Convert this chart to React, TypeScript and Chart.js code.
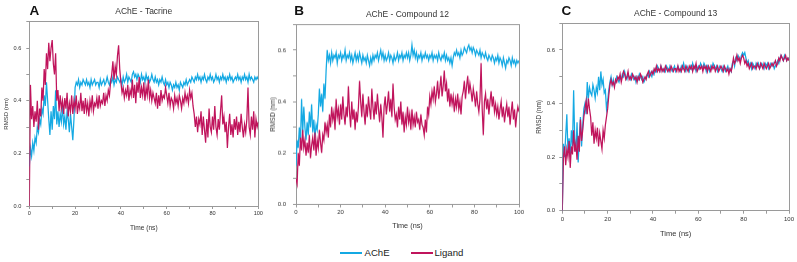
import React, { useEffect, useRef } from "react";
import { Chart, registerables } from "chart.js";

Chart.register(...registerables);

// Time grid: one sample every 0.5 ns, 0..100 ns
const TIME_NS: number[] = Array.from({ length: 201 }, (_, i) => i * 0.5);

const X_TICKS = [0, 20, 40, 60, 80, 100];
const Y_TICKS = [0.0, 0.2, 0.4, 0.6];

const TITLES = ["AChE - Tacrine", "AChE - Compound 12", "AChE - Compound 13"];
const LETTERS = ["A", "B", "C"];
const SERIES_NAMES = ["AChE", "Ligand"];

// Panel A — AChE-Tacrine
const ache_A = [
  0.15,0.22,0.19,0.24,0.21,0.26,0.24,0.30,0.28,0.33,
  0.31,0.37,0.35,0.42,0.38,0.47,0.40,0.33,0.27,0.36,
  0.29,0.38,0.33,0.44,0.31,0.36,0.30,0.35,0.32,0.38,
  0.31,0.34,0.29,0.36,0.33,0.28,0.35,0.30,0.25,0.33,
  0.45,0.47,0.46,0.48,0.45,0.47,0.46,0.48,0.47,0.46,
  0.48,0.46,0.47,0.45,0.48,0.46,0.47,0.48,0.46,0.47,
  0.47,0.45,0.48,0.46,0.47,0.48,0.46,0.47,0.49,0.47,
  0.46,0.48,0.47,0.49,0.46,0.48,0.47,0.49,0.48,0.47,
  0.48,0.46,0.49,0.47,0.48,0.50,0.47,0.49,0.48,0.47,
  0.50,0.51,0.49,0.50,0.48,0.50,0.49,0.47,0.50,0.48,
  0.49,0.47,0.50,0.48,0.49,0.47,0.48,0.50,0.48,0.47,
  0.49,0.47,0.48,0.46,0.48,0.47,0.49,0.47,0.46,0.48,
  0.46,0.47,0.45,0.47,0.46,0.44,0.46,0.45,0.47,0.45,
  0.46,0.44,0.47,0.46,0.45,0.47,0.46,0.48,0.46,0.47,
  0.48,0.47,0.49,0.48,0.47,0.49,0.48,0.50,0.48,0.49,
  0.47,0.49,0.48,0.50,0.48,0.47,0.49,0.48,0.50,0.48,
  0.49,0.47,0.48,0.50,0.48,0.49,0.47,0.49,0.48,0.50,
  0.48,0.49,0.47,0.49,0.48,0.50,0.48,0.49,0.47,0.48,
  0.49,0.48,0.50,0.48,0.49,0.47,0.49,0.48,0.50,0.48,
  0.49,0.47,0.50,0.48,0.49,0.48,0.47,0.49,0.48,0.49,
  0.48,
];
const ligand_A = [
  0.00,0.46,0.33,0.38,0.30,0.36,0.32,0.40,0.29,0.37,
  0.34,0.45,0.40,0.52,0.46,0.58,0.52,0.62,0.55,0.60,
  0.63,0.54,0.50,0.58,0.40,0.44,0.36,0.42,0.37,0.40,
  0.35,0.41,0.37,0.43,0.34,0.39,0.36,0.42,0.35,0.40,
  0.37,0.42,0.35,0.39,0.37,0.43,0.36,0.40,0.35,0.41,
  0.36,0.39,0.34,0.40,0.37,0.42,0.36,0.39,0.38,0.41,
  0.37,0.42,0.38,0.40,0.39,0.43,0.38,0.42,0.40,0.44,
  0.42,0.47,0.50,0.55,0.48,0.53,0.50,0.57,0.61,0.52,
  0.47,0.43,0.45,0.41,0.44,0.42,0.46,0.40,0.44,0.42,
  0.48,0.41,0.46,0.39,0.47,0.43,0.49,0.41,0.45,0.42,
  0.47,0.40,0.45,0.42,0.48,0.41,0.44,0.40,0.43,0.41,
  0.39,0.43,0.37,0.42,0.38,0.44,0.40,0.42,0.41,0.45,
  0.42,0.39,0.43,0.38,0.41,0.40,0.37,0.42,0.39,0.41,
  0.38,0.42,0.40,0.37,0.41,0.39,0.43,0.40,0.42,0.39,
  0.44,0.41,0.43,0.38,0.35,0.30,0.34,0.28,0.33,0.31,
  0.36,0.27,0.34,0.29,0.24,0.33,0.26,0.37,0.30,0.28,
  0.34,0.29,0.38,0.30,0.27,0.33,0.29,0.36,0.42,0.31,
  0.34,0.28,0.32,0.22,0.30,0.35,0.27,0.31,0.26,0.33,
  0.29,0.34,0.27,0.32,0.28,0.35,0.30,0.26,0.31,0.28,
  0.33,0.45,0.30,0.27,0.34,0.29,0.36,0.26,0.33,0.30,
  0.32,
];

// Panel B — AChE-Compound 12
const ache_B = [
  0.15,0.25,0.22,0.30,0.24,0.41,0.28,0.38,0.30,0.25,
  0.32,0.27,0.36,0.30,0.39,0.28,0.33,0.26,0.31,0.29,
  0.35,0.45,0.38,0.43,0.36,0.47,0.41,0.52,0.60,0.56,
  0.58,0.55,0.59,0.56,0.58,0.57,0.59,0.55,0.58,0.57,
  0.59,0.56,0.58,0.57,0.60,0.56,0.58,0.57,0.59,0.56,
  0.58,0.55,0.57,0.59,0.56,0.58,0.56,0.59,0.57,0.55,
  0.58,0.56,0.57,0.55,0.58,0.56,0.54,0.57,0.55,0.58,
  0.56,0.58,0.57,0.59,0.56,0.58,0.60,0.57,0.59,0.56,
  0.58,0.56,0.57,0.59,0.56,0.58,0.57,0.55,0.58,0.56,
  0.57,0.59,0.56,0.58,0.57,0.59,0.56,0.58,0.57,0.59,
  0.57,0.59,0.56,0.58,0.62,0.58,0.60,0.57,0.59,0.56,
  0.58,0.57,0.59,0.56,0.58,0.57,0.59,0.57,0.58,0.56,
  0.58,0.57,0.59,0.56,0.58,0.57,0.58,0.56,0.59,0.57,
  0.56,0.58,0.57,0.59,0.56,0.58,0.56,0.57,0.55,0.57,
  0.54,0.57,0.59,0.58,0.60,0.58,0.59,0.57,0.60,0.58,
  0.59,0.61,0.60,0.59,0.61,0.62,0.60,0.61,0.59,0.61,
  0.60,0.58,0.60,0.59,0.58,0.60,0.57,0.59,0.58,0.57,
  0.59,0.57,0.56,0.58,0.57,0.56,0.58,0.57,0.55,0.57,
  0.56,0.58,0.55,0.57,0.56,0.54,0.57,0.55,0.53,0.56,
  0.55,0.57,0.56,0.54,0.57,0.55,0.56,0.54,0.56,0.55,
  0.56,
];
const ligand_B = [
  0.10,0.08,0.20,0.15,0.26,0.21,0.29,0.22,0.25,0.19,
  0.24,0.20,0.27,0.18,0.23,0.26,0.21,0.28,0.19,0.25,
  0.22,0.29,0.24,0.20,0.27,0.25,0.32,0.28,0.31,0.26,
  0.35,0.30,0.38,0.33,0.36,0.29,0.41,0.34,0.37,0.31,
  0.39,0.33,0.42,0.35,0.31,0.38,0.34,0.46,0.36,0.30,
  0.40,0.33,0.37,0.29,0.36,0.32,0.38,0.48,0.40,0.34,
  0.43,0.36,0.31,0.39,0.34,0.42,0.37,0.33,0.45,0.38,
  0.33,0.40,0.35,0.43,0.37,0.32,0.39,0.34,0.26,0.38,
  0.42,0.35,0.39,0.44,0.36,0.41,0.34,0.47,0.38,0.33,
  0.35,0.30,0.38,0.33,0.40,0.31,0.36,0.28,0.34,0.31,
  0.38,0.32,0.35,0.29,0.37,0.31,0.34,0.30,0.36,0.32,
  0.33,0.29,0.35,0.31,0.30,0.27,0.33,0.28,0.38,0.35,
  0.42,0.39,0.44,0.41,0.46,0.40,0.43,0.48,0.41,0.45,
  0.50,0.42,0.46,0.52,0.44,0.47,0.40,0.45,0.38,0.43,
  0.39,0.42,0.36,0.41,0.38,0.43,0.37,0.40,0.35,0.42,
  0.44,0.48,0.41,0.46,0.50,0.43,0.47,0.44,0.40,0.45,
  0.42,0.38,0.44,0.39,0.36,0.41,0.55,0.37,0.27,0.40,
  0.43,0.37,0.41,0.35,0.40,0.44,0.38,0.42,0.36,0.39,
  0.35,0.38,0.33,0.37,0.40,0.34,0.38,0.32,0.36,0.39,
  0.34,0.38,0.31,0.36,0.40,0.33,0.37,0.30,0.35,0.38,
  0.36,
];

// Panel C — AChE-Compound 13
const ache_C = [
  0.00,0.25,0.20,0.28,0.36,0.22,0.27,0.20,0.30,0.24,
  0.45,0.26,0.22,0.33,0.18,0.27,0.35,0.24,0.32,0.38,
  0.40,0.36,0.48,0.42,0.46,0.44,0.43,0.47,0.45,0.42,
  0.46,0.44,0.50,0.45,0.52,0.47,0.49,0.44,0.45,0.38,
  0.41,0.45,0.48,0.50,0.47,0.49,0.47,0.48,0.50,0.49,
  0.48,0.50,0.49,0.51,0.50,0.52,0.50,0.49,0.51,0.50,
  0.49,0.51,0.50,0.49,0.50,0.48,0.50,0.49,0.51,0.50,
  0.49,0.50,0.48,0.49,0.50,0.51,0.50,0.52,0.51,0.50,
  0.52,0.51,0.53,0.52,0.54,0.53,0.52,0.54,0.53,0.52,
  0.53,0.52,0.54,0.53,0.52,0.54,0.53,0.52,0.53,0.54,
  0.52,0.53,0.54,0.53,0.52,0.54,0.53,0.55,0.53,0.52,
  0.54,0.53,0.52,0.54,0.53,0.55,0.53,0.54,0.52,0.53,
  0.54,0.53,0.55,0.54,0.53,0.55,0.54,0.52,0.54,0.53,
  0.52,0.54,0.53,0.55,0.54,0.53,0.54,0.52,0.53,0.54,
  0.53,0.52,0.54,0.53,0.52,0.53,0.54,0.52,0.53,0.52,
  0.55,0.56,0.54,0.57,0.56,0.58,0.57,0.56,0.58,0.59,
  0.58,0.59,0.57,0.55,0.56,0.54,0.55,0.53,0.55,0.54,
  0.53,0.55,0.54,0.55,0.53,0.54,0.55,0.54,0.53,0.55,
  0.54,0.55,0.53,0.54,0.55,0.54,0.55,0.53,0.54,0.55,
  0.56,0.55,0.57,0.58,0.57,0.56,0.58,0.57,0.56,0.57,
  0.57,
];
const ligand_C = [
  0.00,0.20,0.24,0.17,0.23,0.20,0.26,0.16,0.24,0.21,
  0.30,0.22,0.25,0.19,0.28,0.22,0.34,0.26,0.30,0.35,
  0.38,0.41,0.36,0.42,0.38,0.35,0.28,0.33,0.25,0.30,
  0.27,0.31,0.24,0.29,0.26,0.23,0.30,0.27,0.32,0.35,
  0.38,0.43,0.47,0.49,0.47,0.48,0.46,0.49,0.48,0.50,
  0.49,0.51,0.48,0.50,0.52,0.51,0.49,0.50,0.52,0.49,
  0.50,0.49,0.51,0.50,0.49,0.50,0.48,0.50,0.49,0.51,
  0.50,0.48,0.49,0.50,0.49,0.51,0.52,0.50,0.51,0.52,
  0.51,0.53,0.52,0.54,0.52,0.53,0.52,0.54,0.52,0.53,
  0.52,0.54,0.53,0.52,0.53,0.52,0.54,0.53,0.52,0.53,
  0.53,0.52,0.54,0.52,0.53,0.52,0.54,0.53,0.52,0.54,
  0.53,0.52,0.54,0.53,0.54,0.52,0.54,0.53,0.55,0.52,
  0.53,0.54,0.53,0.54,0.52,0.54,0.53,0.54,0.52,0.54,
  0.53,0.52,0.54,0.53,0.54,0.52,0.53,0.54,0.52,0.53,
  0.54,0.53,0.52,0.54,0.53,0.52,0.53,0.51,0.53,0.52,
  0.54,0.57,0.55,0.56,0.58,0.56,0.57,0.55,0.57,0.58,
  0.57,0.55,0.56,0.54,0.55,0.53,0.54,0.55,0.53,0.54,
  0.54,0.53,0.55,0.54,0.53,0.55,0.54,0.53,0.55,0.54,
  0.53,0.54,0.55,0.53,0.54,0.55,0.54,0.55,0.56,0.54,
  0.55,0.57,0.56,0.58,0.57,0.56,0.57,0.58,0.56,0.57,
  0.56,
];

const ACHE_COLOR = "#14a9e3";
const LIGAND_COLOR = "#c0145c";
const FONT = "'Liberation Sans', Arial, Helvetica, sans-serif";
const FRAME = "#9a9a9a";
const TEXT = "#333333";

type Geo = {
  left: number; width: number; height: number;
  plotLeft: number; plotRight: number; plotTop: number; plotBottom: number;
  tickFont: number; xTitleFont: number; yTitleFont: number;
  yTickPad: number; xTickPad: number; yTitlePad: number;
  titleY: number; letterX: number;
};

const GEOS: Geo[] = [
  { left: 0, width: 265, height: 232, plotLeft: 29.3, plotRight: 258.3, plotTop: 21.7, plotBottom: 206,
    tickFont: 5.6, xTitleFont: 6.6, yTitleFont: 6, yTickPad: 5, xTickPad: 1, yTitlePad: 2.6, titleY: 11, letterX: 29.5 },
  { left: 265, width: 265, height: 229.5, plotLeft: 296, plotRight: 519, plotTop: 24.3, plotBottom: 204,
    tickFont: 6, xTitleFont: 7.3, yTitleFont: 6.5, yTickPad: 7, xTickPad: 1, yTitlePad: 4.8, titleY: 14.3, letterX: 294.3 },
  { left: 530, width: 267, height: 238, plotLeft: 562.3, plotRight: 789, plotTop: 23.2, plotBottom: 210.7,
    tickFont: 6, xTitleFont: 7.5, yTitleFont: 6.4, yTickPad: 4.3, xTickPad: 2.5, yTitlePad: 5.6, titleY: 13.3, letterX: 561.5 },
];

const PANEL_DATA: number[][][] = [
  [ache_A, ligand_A],
  [ache_B, ligand_B],
  [ache_C, ligand_C],
];

function Panel({ idx }: { idx: number }) {
  const ref = useRef<HTMLCanvasElement | null>(null);
  const g = GEOS[idx];
  useEffect(() => {
    if (!ref.current) return;
    const [ache, lig] = PANEL_DATA[idx];
    const toPts = (arr: number[]) => arr.map((v, i) => ({ x: TIME_NS[i], y: v }));
    const chart = new Chart(ref.current, {
      type: "line",
      data: {
        datasets: [
          { label: SERIES_NAMES[1], data: toPts(lig), borderColor: LIGAND_COLOR, borderWidth: 1.25, pointRadius: 0, tension: 0, order: 0 },
          { label: SERIES_NAMES[0], data: toPts(ache), borderColor: ACHE_COLOR, borderWidth: 1.25, pointRadius: 0, tension: 0, order: 1 },
        ],
      },
      options: {
        animation: false,
        responsive: false,
        maintainAspectRatio: false,
        layout: {
          padding: { top: g.plotTop, right: g.left + g.width - g.plotRight, left: 0, bottom: 0 },
        },
        plugins: { legend: { display: false }, tooltip: { enabled: false }, title: { display: false } },
        scales: {
          x: {
            type: "linear", position: "bottom", min: 0, max: 100,
            afterFit: (s: any) => { s.height = g.height - g.plotBottom; },
            grid: { display: true, drawOnChartArea: false, drawTicks: true, tickLength: 3, color: FRAME },
            border: { display: true, color: FRAME, width: 1 },
            ticks: {
              stepSize: 10, autoSkip: false, maxRotation: 0, padding: g.xTickPad, color: TEXT,
              font: { family: FONT, size: g.tickFont },
              callback: (v: any) => (X_TICKS.includes(Math.round(Number(v))) && Math.abs(Number(v) % 20) < 1e-6 ? String(Math.round(Number(v))) : ""),
            },
            title: { display: true, text: "Time (ns)", color: TEXT, padding: { top: 0, bottom: 0 }, font: { family: FONT, size: g.xTitleFont } },
          },
          x2: {
            type: "linear", position: "top", min: 0, max: 100,
            afterFit: (s: any) => { s.height = 0; },
            grid: { display: false },
            border: { display: true, color: FRAME, width: 1 },
            ticks: { display: false },
          },
          y: {
            type: "linear", position: "left", min: 0, max: 0.7,
            afterFit: (s: any) => { s.width = g.plotLeft - g.left; },
            grid: { display: true, drawOnChartArea: false, drawTicks: true, tickLength: 3, color: FRAME },
            border: { display: true, color: FRAME, width: 1 },
            ticks: {
              stepSize: 0.1, autoSkip: false, padding: g.yTickPad, color: TEXT,
              font: { family: FONT, size: g.tickFont },
              callback: (v: any) => {
                const n = Math.round(Number(v) * 10) / 10;
                return Y_TICKS.some((t) => Math.abs(t - n) < 1e-6) ? n.toFixed(1) : "";
              },
            },
            title: { display: true, text: "RMSD (nm)", color: TEXT, padding: { top: g.yTitlePad, bottom: 0 }, font: { family: FONT, size: g.yTitleFont } },
          },
          y2: {
            type: "linear", position: "right", min: 0, max: 0.7,
            afterFit: (s: any) => { s.width = 0; },
            grid: { display: false },
            border: { display: true, color: FRAME, width: 1 },
            ticks: { display: false },
          },
        },
      },
    } as any);
    return () => chart.destroy();
  }, [idx]);

  const plotCenter = (g.plotLeft + g.plotRight) / 2;
  return (
    <>
      <canvas
        ref={ref}
        width={g.width}
        height={g.height}
        style={{ position: "absolute", left: g.left, top: 0, width: g.width, height: g.height }}
      />
      <div
        style={{
          position: "absolute", left: g.letterX, top: 11.2, transform: "translateY(-50%)",
          font: `bold 13.5px ${FONT}`, lineHeight: 1, color: "#111",
        }}
      >
        {LETTERS[idx]}
      </div>
      <div
        style={{
          position: "absolute", left: plotCenter, top: g.titleY, transform: "translate(-50%,-50%)",
          font: `8.5px ${FONT}`, lineHeight: 1, color: TEXT, whiteSpace: "nowrap",
        }}
      >
        {TITLES[idx]}
      </div>
    </>
  );
}

function Legend() {
  const items = [
    { name: SERIES_NAMES[0], color: ACHE_COLOR, lineX: 340, textX: 364.5 },
    { name: SERIES_NAMES[1], color: LIGAND_COLOR, lineX: 411, textX: 434.5 },
  ];
  return (
    <>
      {items.map((it) => (
        <React.Fragment key={it.name}>
          <div style={{ position: "absolute", left: it.lineX, top: 252, width: 22, height: 1.6, background: it.color }} />
          <div
            style={{
              position: "absolute", left: it.textX, top: 252.8, transform: "translateY(-50%)",
              font: `9.6px ${FONT}`, lineHeight: 1, color: "#222", whiteSpace: "nowrap",
            }}
          >
            {it.name}
          </div>
        </React.Fragment>
      ))}
    </>
  );
}

export default function App() {
  return (
    <div style={{ position: "fixed", left: 0, top: 0, width: 797, height: 262, background: "#fff", overflow: "hidden" }}>
      <Panel idx={0} />
      <Panel idx={1} />
      <Panel idx={2} />
      <Legend />
    </div>
  );
}
